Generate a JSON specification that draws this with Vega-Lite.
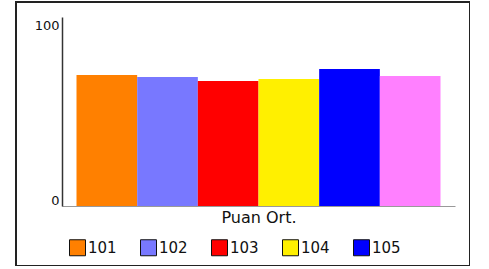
{
  "$schema": "https://vega.github.io/schema/vega-lite/v6.json",
  "width": 454,
  "height": 264,
  "autosize": "none",
  "padding": {"left": 16, "top": 2, "right": 0, "bottom": 0},
  "background": "white",
  "config": {
    "font": "DejaVu Sans",
    "view": {"stroke": "#222222", "strokeWidth": 2}
  },
  "data": {
    "values": [
      {"k": "101", "v": 74.9},
      {"k": "102", "v": 73.7},
      {"k": "103", "v": 71.4},
      {"k": "104", "v": 72.6},
      {"k": "105", "v": 78.3},
      {"k": "106", "v": 74.3}
    ]
  },
  "mark": {"type": "bar"},
  "encoding": {
    "x": {
      "field": "k",
      "type": "nominal",
      "scale": {"range": [46, 439], "paddingInner": 0, "paddingOuter": 0.239},
      "axis": {
        "orient": "bottom",
        "offset": -60,
        "labels": false,
        "ticks": false,
        "domainColor": "#999999",
        "domainWidth": 1,
        "title": "Puan Ort.",
        "titleFont": "DejaVu Sans",
        "titleFontSize": 16,
        "titleFontWeight": "normal",
        "titleColor": "#111111",
        "titlePadding": 3
      }
    },
    "y": {
      "field": "v",
      "type": "quantitative",
      "scale": {"domain": [0, 108], "range": [204, 15], "nice": false, "zero": true},
      "axis": {
        "offset": -46,
        "values": [0, 100],
        "ticks": false,
        "grid": false,
        "labelPadding": 3,
        "labelFontSize": 13,
        "labelColor": "#111111",
        "labelBaseline": "alphabetic",
        "labelOffset": -2,
        "domainColor": "#333333",
        "domainWidth": 1.5,
        "title": null
      }
    },
    "color": {
      "field": "k",
      "type": "nominal",
      "scale": {
        "domain": ["101", "102", "103", "104", "105", "106"],
        "range": ["#ff8000", "#7878ff", "#ff0000", "#fff000", "#0000ff", "#ff80ff"]
      },
      "legend": {
        "orient": "none",
        "legendX": 53,
        "legendY": 237,
        "direction": "horizontal",
        "columns": 5,
        "columnPadding": 21,
        "values": ["101", "102", "103", "104", "105"],
        "title": null,
        "symbolType": "square",
        "symbolSize": 256,
        "symbolStrokeColor": "#111111",
        "symbolStrokeWidth": 1,
        "labelFontSize": 15,
        "labelColor": "#111111",
        "labelOffset": 2,
        "padding": 0
      }
    }
  }
}
